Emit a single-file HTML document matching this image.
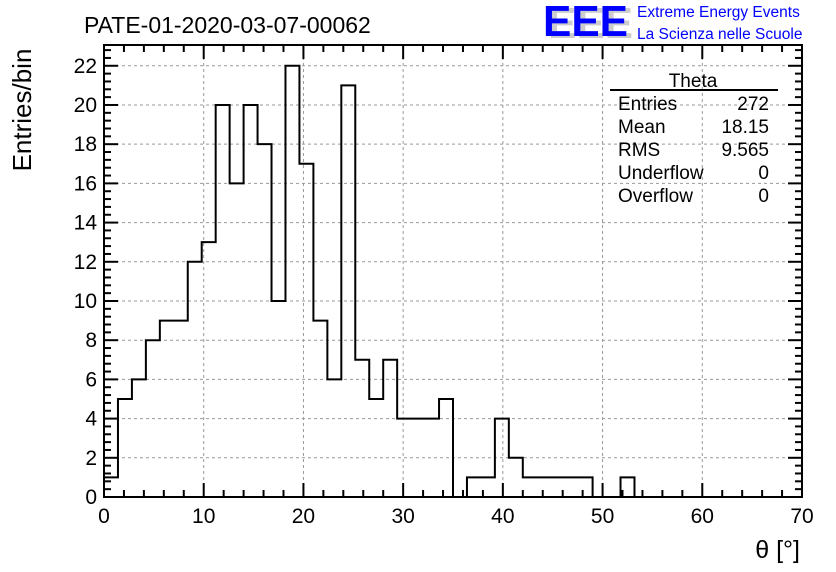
<!DOCTYPE html>
<html><head><meta charset="utf-8"><style>
body{margin:0;background:#fff;}
svg{display:block;font-family:"Liberation Sans",sans-serif;}
</style></head><body>
<svg id="chart" width="836" height="572">
<g id="grid"></g><g id="ticks"></g>
<path id="hist" fill="none" stroke="#000" stroke-width="2"/>
<rect x="104" y="45" width="698" height="452" fill="none" stroke="#000" stroke-width="2"/>
<text x="84" y="33" font-size="23">PATE-01-2020-03-07-00062</text>
<g>
<text x="548" y="38" font-size="44" font-weight="bold" fill="#ccc" textLength="85" lengthAdjust="spacingAndGlyphs">EEE</text>
<text x="543" y="36" font-size="44" font-weight="bold" fill="#00f" textLength="85" lengthAdjust="spacingAndGlyphs">EEE</text>
<text x="637" y="17" font-size="15.5" fill="#00f">Extreme Energy Events</text>
<text x="637" y="39" font-size="15.5" fill="#00f">La Scienza nelle Scuole</text>
</g>
<g font-size="19">
<text x="693" y="87" text-anchor="middle">Theta</text>
<line x1="610" y1="90" x2="778" y2="90" stroke="#000" stroke-width="2"/>
<text x="618" y="110">Entries</text><text x="769" y="110" text-anchor="end">272</text>
<text x="618" y="133">Mean</text><text x="769" y="133" text-anchor="end">18.15</text>
<text x="618" y="156">RMS</text><text x="769" y="156" text-anchor="end">9.565</text>
<text x="618" y="179">Underflow</text><text x="769" y="179" text-anchor="end">0</text>
<text x="618" y="202">Overflow</text><text x="769" y="202" text-anchor="end">0</text>
</g>
<text transform="translate(31,110) rotate(-90)" text-anchor="middle" font-size="26">Entries/bin</text>
<text x="800" y="558" text-anchor="end" font-size="25">θ [°]</text>
</svg>
<script>
const binWidth = 1.4;
const counts = [1,5,6,8,9,9,12,13,20,16,20,18,10,22,17,9,6,21,7,5,7,4,4,4,5,0,1,1,4,2,1,1,1,1,1,0,0,1,0,0,0,0,0,0,0,0,0,0,0,0];
const xTicks = [0,10,20,30,40,50,60,70];
const yTicks = [0,2,4,6,8,10,12,14,16,18,20,22];
const X0=104,X1=802,Y0=497,YT=45,XMAX=70,YMAX=23.06;
const sx=v=>X0+(X1-X0)*v/XMAX, sy=v=>Y0-(Y0-YT)*v/YMAX;
const NS="http://www.w3.org/2000/svg";
function mk(p,t,a){const e=document.createElementNS(NS,t);for(const k in a)e.setAttribute(k,a[k]);p.appendChild(e);return e;}
let d=`M${sx(0)},${sy(0)}`;
counts.forEach((c,i)=>{d+=` L${sx(i*binWidth)},${sy(c)} L${sx((i+1)*binWidth)},${sy(c)}`;});
d+=` L${sx(counts.length*binWidth)},${sy(0)}`;
document.getElementById('hist').setAttribute('d',d);
const g=document.getElementById('grid'),t=document.getElementById('ticks'),svg=document.getElementById('chart');
xTicks.forEach(v=>{
 if(v>0&&v<XMAX){const l=mk(g,'line',{x1:sx(v),x2:sx(v),y1:YT,y2:Y0,stroke:'#999','stroke-dasharray':'3,3'});
 }
 const tx=mk(svg,'text',{x:sx(v),y:523,'text-anchor':'middle','font-size':21});tx.textContent=v;
 
});
for(let v=0;v<=XMAX;v+=2){const len=v%10===0?14:7;
 mk(t,'line',{x1:sx(v),x2:sx(v),y1:Y0,y2:Y0-len,stroke:'#000','stroke-width':2});
 mk(t,'line',{x1:sx(v),x2:sx(v),y1:YT,y2:YT+len,stroke:'#000','stroke-width':2});}
yTicks.forEach(v=>{
 if(v>0){const l=mk(g,'line',{x1:X0,x2:X1,y1:sy(v),y2:sy(v),stroke:'#999','stroke-dasharray':'3,3'});
 }
 const tx=mk(svg,'text',{x:97,y:sy(v)+7,'text-anchor':'end','font-size':21});tx.textContent=v;
 
});
for(let v=0;v<=YMAX;v+=0.4){const major=Math.abs(v/2-Math.round(v/2))<1e-6;const len=major?14:7;
 mk(t,'line',{x1:X0,x2:X0+len,y1:sy(v),y2:sy(v),stroke:'#000','stroke-width':2});
 mk(t,'line',{x1:X1,x2:X1-len,y1:sy(v),y2:sy(v),stroke:'#000','stroke-width':2});}
</script>
</body></html>
